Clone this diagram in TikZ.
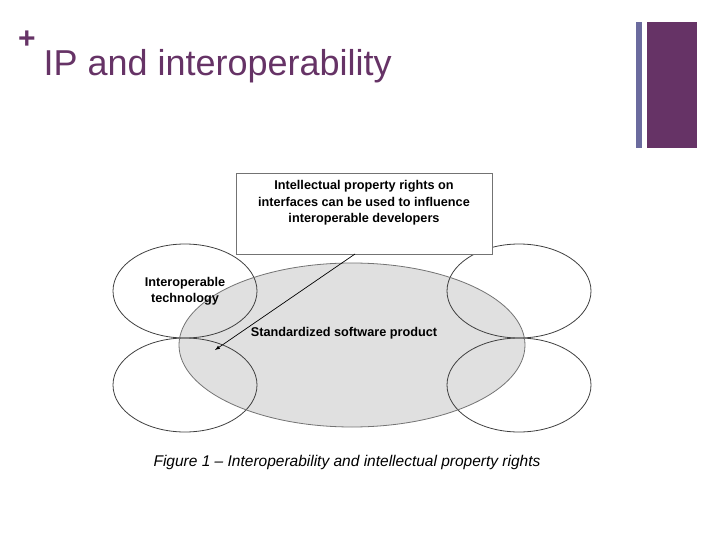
\documentclass[tikz,border=0pt]{standalone}
\usepackage{fontspec}
\setmainfont{Liberation Sans}
\usetikzlibrary{arrows,shapes.geometric}
\definecolor{plum}{HTML}{663366}
\definecolor{slate}{HTML}{6B6B9E}
\tikzstyle{ring} = [draw=black!75,ellipse,minimum width=144pt,minimum height=94pt,line width=0.8pt]
\tikzstyle{label} = [align=center,font=\fontsize{12.7}{16.5}\selectfont\bfseries,text centered]
\begin{document}
\begin{tikzpicture}[x=1pt,y=-1pt]
				\useasboundingbox (0,0) rectangle (720,540);
				\node (plus) [text=plum,font=\fontsize{30}{30}\selectfont\bfseries] at (27,40) {+};
				\node (title) [anchor=west,text=plum,font=\fontsize{36}{40}\selectfont] at (40,66) {IP and interoperability};
				\fill [slate] (636,22) rectangle (642,148);
				\fill [plum] (647,22) rectangle (697,148);
				\node (std) [ellipse,fill=black!12,minimum width=346pt,minimum height=164pt] at (352,345) {};
				\node (tl) [ring] at (185,291) {};
				\node (bl) [ring] at (185,385) {};
				\node (tr) [ring] at (519,291) {};
				\node (br) [ring] at (519,385) {};
				\node [ellipse,draw=black!55,minimum width=346pt,minimum height=164pt,line width=0.8pt] at (352,345) {};
				\node (box) [draw=black!55,fill=white,minimum width=256pt,minimum height=81pt,line width=0.8pt] at (364,213.5) {};
				\node (ip) [label] at (364,203) {Intellectual property rights on\\interfaces can be used to influence\\interoperable developers};
				\node (tech) [label] at (185,291) {Interoperable\\technology};
				\node (prod) [label] at (344,333) {Standardized software product};
				\coordinate (from) at (355,254);
				\coordinate (tip) at (215,350);
				\draw [-latex,line width=0.7pt] (from) -- (tip);
				\node (cap) [font=\fontsize{15.5}{18}\selectfont\itshape] at (347,462) {Figure 1 -- Interoperability and intellectual property rights};
			\end{tikzpicture}
\end{document}
